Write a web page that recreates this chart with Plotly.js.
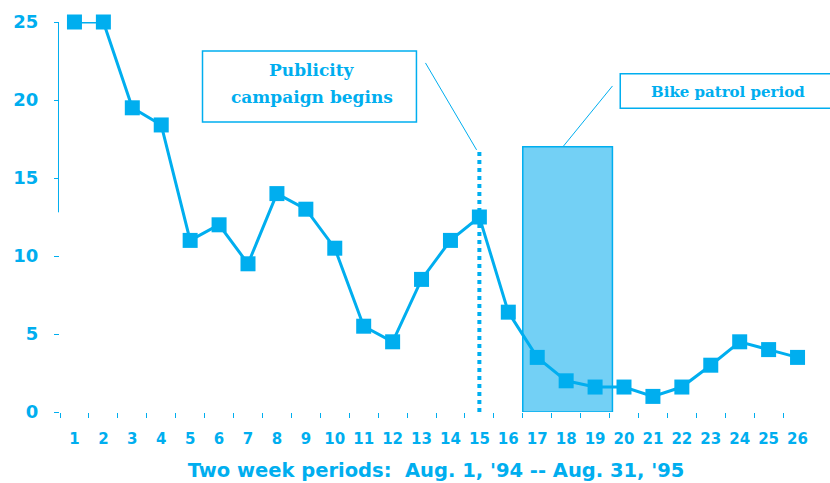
<!DOCTYPE html>
<html><head><meta charset="utf-8">
<script src="https://cdn.plot.ly/plotly-3.0.1.min.js"></script>
<style>html,body{margin:0;padding:0;background:#fff}#c{width:830px;height:483px}</style>
</head><body><div id="c"></div>
<script>
var periods = [1,2,3,4,5,6,7,8,9,10,11,12,13,14,15,16,17,18,19,20,21,22,23,24,25,26];
var counts = [25,25,19.5,18.4,11,12,9.5,14,13,10.5,5.5,4.5,8.5,11,12.5,6.4,3.5,2,1.6,1.6,1,1.6,3,4.5,4,3.5];
var yTicks = [0,5,10,15,20,25];
var campaignStart = 15;
var campaignLineTop = 16.8;
var patrolStart = 16.5, patrolEnd = 19.6, patrolTop = 17;
var xTitle = "Two week periods:  Aug. 1, '94 -- Aug. 31, '95";

var C = 'rgb(0,174,239)';
var minorVals = periods.map(function(p){return p-0.5;});

var trace = {
  x: periods, y: counts, type: 'scatter', mode: 'lines+markers',
  line: {color: C, width: 3},
  marker: {symbol: 'square', size: 15, color: C},
  cliponaxis: false, hoverinfo: 'skip'
};

var layout = {
  width: 830, height: 483,
  margin: {l: 60, r: 18, t: 22, b: 71},
  paper_bgcolor: '#fff', plot_bgcolor: '#fff',
  showlegend: false,
  font: {family: 'DejaVu Sans', color: C},
  xaxis: {
    range: [0.5, 26.5], showgrid: false, zeroline: false, showline: false,
    tickvals: periods, ticktext: periods.map(String), ticks: '',
    ticklabelstandoff: 16,
    tickfont: {family: 'DejaVu Sans', size: 15, color: C, weight: 'bold'},
    minor: {tickvals: minorVals, ticks: 'outside', ticklen: 5, tickcolor: C, tickwidth: 1},
    title: {text: xTitle, font: {family: 'DejaVu Sans', size: 19.5, color: C, weight: 'bold'}, standoff: 16}
  },
  yaxis: {
    range: [0, 25], showgrid: false, zeroline: false, showline: false,
    tickvals: yTicks, ticks: 'outside', ticklen: 5, tickcolor: C,
    ticklabelstandoff: 12,
    tickfont: {family: 'DejaVu Sans', size: 18, color: C, weight: 'bold'}
  },
  shapes: [
    {type: 'line', xref: 'paper', yref: 'y', x0: -0.002, x1: -0.002, y0: 12.8, y1: 25, line: {color: C, width: 1}},
    {type: 'rect', xref: 'x', yref: 'y', x0: patrolStart, x1: patrolEnd, y0: 0, y1: patrolTop,
      fillcolor: 'rgb(115,208,245)', line: {color: C, width: 1.5}, layer: 'below'},
    {type: 'line', xref: 'x', yref: 'y', x0: campaignStart, x1: campaignStart, y0: 0, y1: campaignLineTop,
      line: {color: C, width: 4, dash: 'dot'}},
    {type: 'rect', xref: 'paper', yref: 'paper', x0: 0.1895, x1: 0.474, y0: 0.7436, y1: 0.9256,
      line: {color: C, width: 1.5}, fillcolor: 'rgba(0,0,0,0)'},
    {type: 'line', xref: 'paper', yref: 'paper', x0: 0.486, y0: 0.895, x1: 0.554, y1: 0.672, line: {color: C, width: 1}},
    {type: 'rect', xref: 'paper', yref: 'paper', x0: 0.745, x1: 1.05, y0: 0.779, y1: 0.867,
      line: {color: C, width: 1.5}, fillcolor: 'rgba(0,0,0,0)'},
    {type: 'line', xref: 'paper', yref: 'paper', x0: 0.7347, y0: 0.836, x1: 0.6696, y1: 0.682, line: {color: C, width: 1}}
  ],
  annotations: [
    {xref: 'paper', yref: 'paper', x: 0.335, y: 0.877, text: 'Publicity', showarrow: false,
      xanchor: 'center', yanchor: 'middle', font: {family: 'DejaVu Serif', size: 17, color: C, weight: 'bold'}},
    {xref: 'paper', yref: 'paper', x: 0.335, y: 0.8077, text: 'campaign begins', showarrow: false,
      xanchor: 'center', yanchor: 'middle', font: {family: 'DejaVu Serif', size: 17, color: C, weight: 'bold'}},
    {xref: 'paper', yref: 'paper', x: 0.888, y: 0.8205, text: 'Bike patrol period', showarrow: false,
      xanchor: 'center', yanchor: 'middle', font: {family: 'DejaVu Serif', size: 15, color: C, weight: 'bold'}}
  ]
};

Plotly.newPlot('c', [trace], layout, {displayModeBar: false, staticPlot: true});
</script></body></html>
